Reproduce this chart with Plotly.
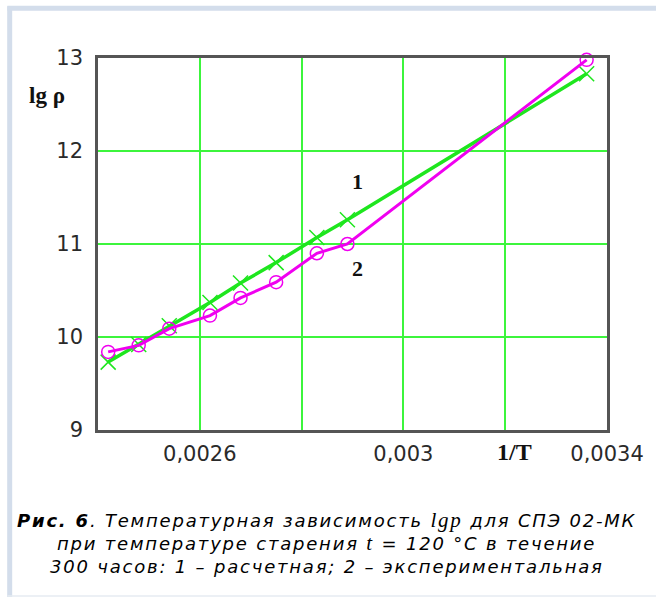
import plotly.graph_objects as go

# Data
inv_T = [0.00242, 0.00248, 0.00254, 0.00262, 0.00268, 0.00275, 0.00283, 0.00289, 0.00336]
lg_rho_calc = [9.73, 9.92, 10.12, 10.37, 10.58, 10.80, 11.07, 11.26, 12.83]
lg_rho_exp = [9.84, 9.91, 10.09, 10.23, 10.42, 10.59, 10.90, 11.00, 12.98]

x_tickvals = [0.0026, 0.0028, 0.003, 0.0032, 0.0034]
x_ticktext = ["0,0026", "", "0,003", "", "0,0034"]
y_tickvals = [9, 10, 11, 12, 13]
y_ticktext = ["9", "10", "11", "12", "13"]

caption_lines = [
    "<b>Рис. 6</b>. Температурная зависимость <span style='font-family:Liberation Serif;font-size:21px'>lgp</span> для СПЭ 02-МК",
    "при температуре старения <span style='font-family:Liberation Serif;font-size:21px'>t</span> = 120 °C в течение",
    "300 часов: 1 – расчетная; 2 – экспериментальная",
]

GREEN = "#1ee61e"
GRID = "#3cf53c"
MAGENTA = "#f000f0"

fig = go.Figure()
fig.add_trace(go.Scatter(
    x=inv_T, y=lg_rho_calc, mode="lines+markers",
    line=dict(color=GREEN, width=3.5),
    marker=dict(symbol="x-thin-open", size=15, color=GREEN, line=dict(color=GREEN, width=1.5)),
    cliponaxis=False, showlegend=False,
))
fig.add_trace(go.Scatter(
    x=inv_T, y=lg_rho_exp, mode="lines+markers",
    line=dict(color=MAGENTA, width=3),
    marker=dict(symbol="circle-open", size=13, color=MAGENTA, line=dict(color=MAGENTA, width=1.5)),
    cliponaxis=False, showlegend=False,
))

axis_font = dict(family="DejaVu Sans", size=21, color="#2a2a2a")
fig.update_xaxes(
    range=[0.0024, 0.0034], tickvals=x_tickvals, ticktext=x_ticktext,
    showgrid=True, gridcolor=GRID, gridwidth=2,
    showline=True, linecolor="#555555", linewidth=2.5, mirror=True,
    ticks="", ticklabelstandoff=3, tickfont=axis_font, zeroline=False,
)
fig.update_yaxes(
    range=[9, 13], tickvals=y_tickvals, ticktext=y_ticktext,
    showgrid=True, gridcolor=GRID, gridwidth=2,
    showline=True, linecolor="#555555", linewidth=2.5, mirror=True,
    ticks="", ticklabelstandoff=8, tickfont=axis_font, zeroline=False,
)

serif_bold = dict(family="Liberation Serif", size=22, color="#111111")
annotations = [
    dict(x=-0.1, y=0.9, xref="paper", yref="paper", text="<b>lg ρ</b>", showarrow=False,
         font=dict(family="Liberation Serif", size=23, color="#111111"), xanchor="center", yanchor="middle"),
    dict(x=0.818, y=-0.059, xref="paper", yref="paper", text="<b>1/T</b>", showarrow=False,
         font=dict(family="Liberation Serif", size=24, color="#111111"), xanchor="center", yanchor="middle"),
    dict(x=0.00291, y=11.67, xref="x", yref="y", text="<b>1</b>", showarrow=False, font=serif_bold,
         xanchor="center", yanchor="middle"),
    dict(x=0.00291, y=10.74, xref="x", yref="y", text="<b>2</b>", showarrow=False, font=serif_bold,
         xanchor="center", yanchor="middle"),
]
cap_y = [-0.242, -0.304, -0.366]
for txt, yy in zip(caption_lines, cap_y):
    annotations.append(dict(
        x=0.449, y=yy, xref="paper", yref="paper",
        text="<span style='letter-spacing:1.8px'><i>" + txt + "</i></span>",
        showarrow=False, xanchor="center", yanchor="middle",
        font=dict(family="DejaVu Sans", size=18, color="#000000"),
    ))

shapes = [
    # light blue frame (left, top, bottom)
    dict(type="line", xref="paper", yref="paper", x0=-0.1735, x1=-0.1735, y0=1.139, y1=-0.449,
         line=dict(color="#d3ddeb", width=5)),
    dict(type="line", xref="paper", yref="paper", x0=-0.178, x1=1.2, y0=1.1335, y1=1.1335,
         line=dict(color="#d3ddeb", width=5)),
    dict(type="line", xref="paper", yref="paper", x0=-0.178, x1=1.2, y0=-0.446, y1=-0.446,
         line=dict(color="#e6ebf2", width=1.5)),
]

fig.update_layout(
    width=656, height=598,
    margin=dict(l=98, r=41, t=58, b=168),
    paper_bgcolor="white", plot_bgcolor="white",
    annotations=annotations, shapes=shapes,
)
fig.write_html("out.html", config={"displayModeBar": False},
               post_script="document.body.style.margin='0px';")
